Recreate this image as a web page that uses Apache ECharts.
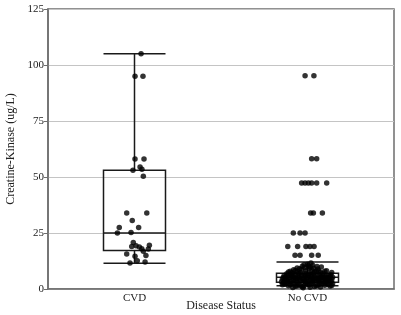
<!DOCTYPE html>
<html>
<head>
<meta charset="utf-8">
<script src="https://cdn.jsdelivr.net/npm/echarts@6/dist/echarts.min.js"></script>
<style>
  html, body { margin: 0; padding: 0; background: #fff; }
  #chart { width: 401px; height: 315px; }
</style>
</head>
<body>
<div id="chart"></div>
<script>
// Creatine-Kinase by disease status: boxplot + jittered points
const CATEGORIES = ["CVD", "No CVD"];
const Y_TICKS = [0, 25, 50, 75, 100, 125];

// [min, Q1, median, Q3, max]
const BOX_CVD   = [11.5, 17.2, 25, 53, 105];
const BOX_NOCVD = [1.5, 3.0, 5.2, 7.0, 12.0];

// points: [jitter offset within band, value]
const PTS_CVD = [
  [0.038, 105], [0.003, 95], [0.049, 95],
  [0.003, 58], [0.055, 58],
  [-0.009, 53], [0.032, 54.5], [0.043, 53.5], [0.051, 50.3],
  [-0.045, 33.9], [0.071, 33.9], [-0.013, 30.6],
  [-0.088, 27.5], [0.024, 27.5], [-0.099, 25], [-0.020, 25.2],
  [-0.007, 20.8], [-0.016, 19], [0.009, 19.3], [0.028, 18.8], [0.042, 18],
  [0.086, 19.5], [0.080, 17.9], [0.051, 16.8], [-0.045, 15.6], [0.003, 14.6],
  [0.066, 15], [-0.026, 11.6], [0.016, 12.6], [0.061, 12.1],
];
const PTS_NOCVD = [
  [-0.014, 95.2], [0.037, 95.2],
  [0.024, 58.2], [0.053, 58.2],
  [-0.034, 47.3], [-0.014, 47.3], [0.005, 47.3], [0.024, 47.3], [0.053, 47.3], [0.111, 47.3],
  [0.018, 33.9], [0.034, 33.9], [0.086, 33.9],
  [-0.082, 25], [-0.043, 25], [-0.014, 25],
  [-0.114, 19], [-0.057, 19], [-0.009, 19], [0.014, 19], [0.038, 19],
  [-0.072, 15.1], [-0.043, 15.1], [0.024, 15.1], [0.062, 15.1],
  [-0.15, 3.2], [-0.14, 5.1], [-0.13, 2.1], [-0.12, 6.8], [-0.12, 4.0], [-0.11, 1.5],
  [-0.10, 7.9], [-0.10, 3.3], [-0.09, 5.6], [-0.09, 2.4], [-0.08, 8.6], [-0.08, 4.5],
  [-0.07, 1.2], [-0.07, 6.2], [-0.06, 3.0], [-0.06, 9.4], [-0.05, 5.0], [-0.05, 2.0],
  [-0.04, 7.3], [-0.04, 3.8], [-0.03, 10.2], [-0.03, 1.0], [-0.02, 6.0], [-0.02, 4.2],
  [-0.01, 8.1], [-0.01, 2.6], [0.0, 11.0], [0.0, 5.3], [0.0, 3.5], [0.01, 9.0],
  [0.01, 1.8], [0.02, 6.6], [0.02, 4.7], [0.03, 10.6], [0.03, 2.9], [0.04, 7.6],
  [0.04, 5.8], [0.05, 3.9], [0.05, 1.4], [0.06, 8.9], [0.06, 4.3], [0.07, 6.4],
  [0.07, 2.2], [0.08, 9.8], [0.08, 5.2], [0.09, 3.1], [0.09, 7.0], [0.10, 1.7],
  [0.10, 4.8], [0.11, 8.2], [0.11, 2.7], [0.12, 6.1], [0.12, 3.6], [0.13, 5.5],
  [0.13, 1.3], [0.14, 4.1], [0.14, 7.4],
  [-0.13, 4.6], [-0.11, 5.9], [-0.09, 7.2], [-0.07, 3.7], [-0.05, 6.9], [-0.03, 4.9],
  [-0.01, 5.7], [0.01, 6.8], [0.03, 4.4], [0.05, 7.9], [0.07, 5.0], [0.09, 6.0],
  [0.11, 3.9], [-0.12, 2.8], [-0.08, 2.5], [-0.04, 1.6], [0.0, 2.1], [0.04, 1.1],
  [0.08, 2.4], [0.12, 2.0], [-0.02, 10.8], [0.02, 11.6], [0.015, 9.8], [-0.035, 8.8],
  [0.055, 10.0], [-0.06, 7.8], [0.025, 8.4], [-0.015, 3.2], [0.035, 3.3], [0.065, 3.6],
  [-0.095, 6.3], [0.105, 5.7], [-0.135, 6.0], [0.135, 6.3], [-0.145, 1.9], [0.145, 2.5],
  [-0.025, 0.6], [0.015, 0.8], [0.075, 0.9], [-0.085, 0.7],
  [-0.145, 4.4], [-0.135, 3.0], [-0.125, 5.5], [-0.115, 3.6], [-0.105, 5.0], [-0.095, 4.0],
  [-0.085, 6.7], [-0.075, 5.3], [-0.065, 4.6], [-0.055, 5.8], [-0.045, 4.3], [-0.035, 6.3],
  [-0.025, 3.6], [-0.015, 7.0], [-0.005, 4.5], [0.005, 6.2], [0.015, 3.9], [0.025, 5.5],
  [0.035, 7.0], [0.045, 4.9], [0.055, 6.0], [0.065, 4.2], [0.075, 7.4], [0.085, 3.8],
  [0.095, 5.0], [0.105, 3.4], [0.115, 5.1], [0.125, 4.5], [0.135, 3.4], [0.145, 5.2],
  [-0.14, 2.6], [-0.10, 1.9], [-0.06, 1.5], [-0.02, 1.3], [0.02, 2.4], [0.06, 1.8],
  [0.10, 2.9], [0.14, 1.6], [-0.07, 8.3], [-0.045, 9.0], [-0.015, 9.6], [0.005, 10.3],
  [0.035, 9.3], [0.065, 8.0], [0.10, 7.9], [-0.11, 7.6],
];

const FONT = "'Liberation Serif', 'DejaVu Serif', serif";
const ink = "#1a1a1a";
const frame = "#6e6e6e";

const chart = echarts.init(document.getElementById("chart"));

const scatterData = [
  ...PTS_CVD.map(p => [0 + p[0], p[1]]),
  ...PTS_NOCVD.map(p => [1 + p[0], p[1]]),
];

chart.setOption({
  backgroundColor: "#fff",
  animation: false,
  grid: { left: 48, right: 7, top: 9, bottom: 26, show: true, borderColor: frame, borderWidth: 1.5,
          outerBoundsMode: "none", containLabel: false },
  xAxis: [
    { type: "category", data: CATEGORIES, name: "Disease Status", nameLocation: "middle", nameGap: 11,
      nameMoveOverlap: false,
      nameTextStyle: { fontFamily: FONT, fontSize: 12, color: "#222" },
      axisLine: { lineStyle: { color: frame, width: 1.5 } }, axisTick: { show: false },
      axisLabel: { fontFamily: FONT, fontSize: 11, color: "#222", margin: 4 },
      splitLine: { show: false } },
    { type: "value", min: -0.5, max: 1.5, show: false },
  ],
  yAxis: {
    type: "value", min: Y_TICKS[0], max: Y_TICKS[Y_TICKS.length - 1], interval: 25,
    name: "Creatine-Kinase (ug/L)", nameLocation: "middle", nameGap: 31,
    nameMoveOverlap: false,
    nameTextStyle: { fontFamily: FONT, fontSize: 12, color: "#222" },
    axisLine: { show: true, onZero: false, lineStyle: { color: frame, width: 1.5 } },
    axisTick: { show: true, length: 4, lineStyle: { color: frame } },
    axisLabel: { fontFamily: FONT, fontSize: 11, color: "#222", margin: 4 },
    splitLine: { lineStyle: { color: "#c4c4c4", width: 1.2 } },
  },
  series: [
    { type: "boxplot", xAxisIndex: 0, data: [BOX_CVD, BOX_NOCVD], boxWidth: [62, 62],
      itemStyle: { color: "transparent", borderColor: ink, borderWidth: 1.5 }, z: 2 },
    { type: "scatter", xAxisIndex: 1, data: scatterData, symbolSize: 5.5,
      itemStyle: { color: "#000" }, z: 3 },
  ],
});
</script>
</body>
</html>
